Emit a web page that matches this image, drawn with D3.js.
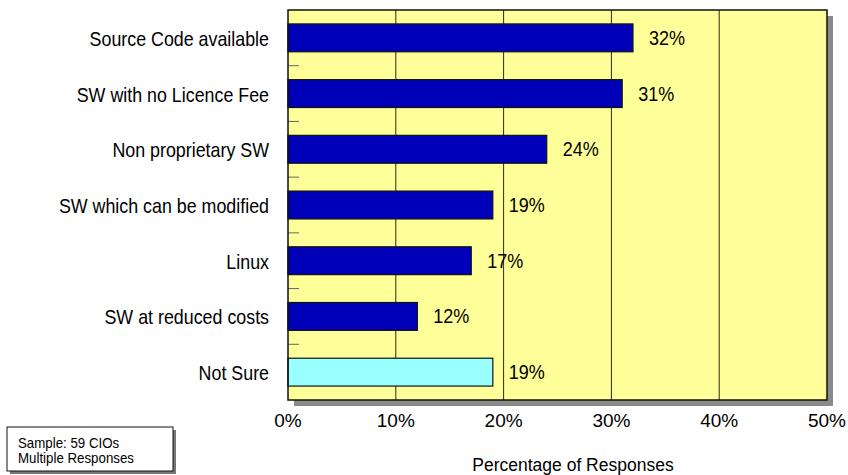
<!DOCTYPE html>
<html>
<head>
<meta charset="utf-8">
<script src="https://cdn.jsdelivr.net/npm/d3@7"></script>
<style>
  html, body { margin: 0; padding: 0; background: #fff; }
  svg { display: block; font-family: "Liberation Sans", Arial, sans-serif; }
</style>
</head>
<body>
<svg id="chart" width="848" height="475"></svg>
<script>
// Responses per criterion (percent of CIOs)
const categories = [
  "Source Code available",
  "SW with no Licence Fee",
  "Non proprietary SW",
  "SW which can be modified",
  "Linux",
  "SW at reduced costs",
  "Not Sure"
];
const values = [32, 31, 24, 19, 17, 12, 19];
const highlighted = ["Not Sure"];
const xTicks = [0, 10, 20, 30, 40, 50];
const axisTitle = "Percentage of Responses";
const noteLines = ["Sample: 59 CIOs", "Multiple Responses"];

const svg = d3.select("#chart");
const plot = { left: 288, right: 827, top: 10, bottom: 400 };

const x = d3.scaleLinear().domain([0, 50]).range([plot.left, plot.right]);
const y = d3.scaleBand()
  .domain(categories)
  .range([plot.top, plot.bottom])
  .paddingInner(0.5)
  .paddingOuter(0.25);

// drop shadow behind the plot panel
svg.append("rect")
  .attr("x", plot.left + 6).attr("y", plot.top + 6)
  .attr("width", plot.right - plot.left).attr("height", plot.bottom - plot.top)
  .attr("fill", "#8a8a8a");

// plot panel
svg.append("rect")
  .attr("x", plot.left).attr("y", plot.top)
  .attr("width", plot.right - plot.left).attr("height", plot.bottom - plot.top)
  .attr("fill", "#FFFF99");

// vertical gridlines
svg.append("g")
  .selectAll("line")
  .data(xTicks.filter(d => d > 0 && d < 50))
  .join("line")
  .attr("x1", d => x(d)).attr("x2", d => x(d))
  .attr("y1", plot.top).attr("y2", plot.bottom)
  .attr("stroke", "#2a2a1a").attr("stroke-width", 1);

// small ticks between categories on the left edge
const step = y.step();
const boundaries = categories.slice(1).map((c, i) => plot.top + (i + 1) * step);
svg.append("g")
  .selectAll("line")
  .data(boundaries)
  .join("line")
  .attr("x1", plot.left).attr("x2", plot.left + 11)
  .attr("y1", d => d).attr("y2", d => d)
  .attr("stroke", "#666").attr("stroke-width", 1);

// bars
svg.append("g")
  .selectAll("rect")
  .data(categories.map((c, i) => ({ c, v: values[i] })))
  .join("rect")
  .attr("x", x(0))
  .attr("y", d => y(d.c))
  .attr("width", d => x(d.v) - x(0))
  .attr("height", y.bandwidth())
  .attr("fill", d => highlighted.includes(d.c) ? "#99FFFF" : "#0000B8")
  .attr("stroke", "#111")
  .attr("stroke-width", 1.2);

// frame
svg.append("rect")
  .attr("x", plot.left).attr("y", plot.top)
  .attr("width", plot.right - plot.left).attr("height", plot.bottom - plot.top)
  .attr("fill", "none")
  .attr("stroke", "#111").attr("stroke-width", 1.5);

// value labels
svg.append("g")
  .selectAll("text")
  .data(categories.map((c, i) => ({ c, v: values[i] })))
  .join("text")
  .attr("transform", d => `translate(${x(d.v) + 16},${y(d.c) + y.bandwidth() / 2 + 7}) scale(0.9,1)`)
  .attr("font-size", 20)
  .attr("fill", "#000")
  .text(d => d.v + "%");

// category labels
svg.append("g")
  .selectAll("text")
  .data(categories)
  .join("text")
  .attr("transform", d => `translate(269,${y(d) + y.bandwidth() / 2 + 8}) scale(0.85,1)`)
  .attr("text-anchor", "end")
  .attr("font-size", 21)
  .attr("fill", "#000")
  .text(d => d);

// x axis tick labels
svg.append("g")
  .selectAll("text")
  .data(xTicks)
  .join("text")
  .attr("x", d => x(d))
  .attr("y", 427)
  .attr("text-anchor", "middle")
  .attr("font-size", 19)
  .attr("fill", "#000")
  .text(d => d + "%");

// axis title
svg.append("text")
  .attr("x", 573).attr("y", 471)
  .attr("text-anchor", "middle")
  .attr("font-size", 17.5)
  .attr("fill", "#000")
  .text(axisTitle);

// sample note box
const note = svg.append("g");
note.append("rect")
  .attr("x", 10).attr("y", 430)
  .attr("width", 166).attr("height", 44)
  .attr("fill", "#777");
note.append("rect")
  .attr("x", 7).attr("y", 427)
  .attr("width", 166).attr("height", 44)
  .attr("fill", "#fff")
  .attr("stroke", "#111").attr("stroke-width", 1);
note.selectAll("text")
  .data(noteLines)
  .join("text")
  .attr("transform", (d, i) => `translate(18,${448 + i * 15}) scale(0.95,1)`)
  .attr("font-size", 14)
  .attr("fill", "#000")
  .text(d => d);
</script>
</body>
</html>
